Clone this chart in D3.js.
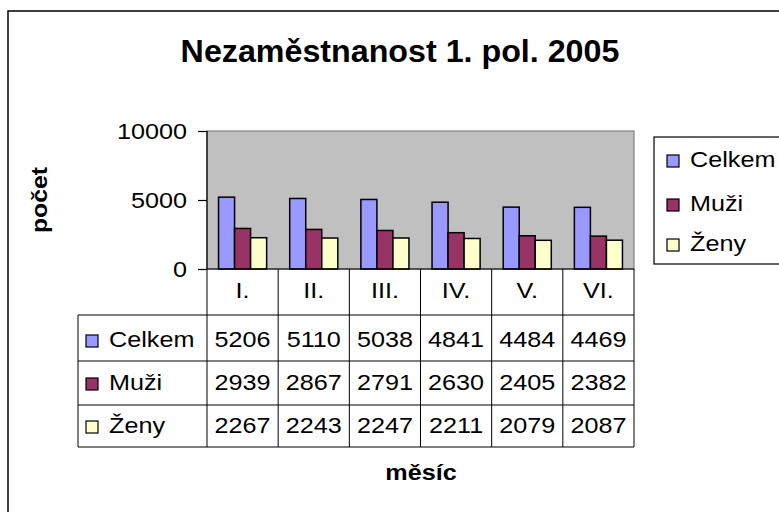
<!DOCTYPE html>
<html><head><meta charset="utf-8">
<script src="https://cdn.jsdelivr.net/npm/d3@7"></script>
<style>html,body{margin:0;padding:0;background:#fff;}svg{display:block;}</style>
</head><body>
<svg id="c" width="779" height="512"></svg>
<script>
const title = "Nezaměstnanost 1. pol. 2005";
const categories = ["I.", "II.", "III.", "IV.", "V.", "VI."];
const seriesNames = ["Celkem", "Muži", "Ženy"];
const celkem = [5206, 5110, 5038, 4841, 4484, 4469];
const muzi = [2939, 2867, 2791, 2630, 2405, 2382];
const zeny = [2267, 2243, 2247, 2211, 2079, 2087];
const yTicks = [0, 5000, 10000];
const colors = ["#9999FF", "#993366", "#FFFFCC"];
const yTitle = "počet";
const xTitle = "měsíc";

const seriesValues = [celkem, muzi, zeny];
const svg = d3.select("#c");
const FONT = "'Liberation Sans', Arial, sans-serif";
const SX = 1.12;
const FS = 22.5;

function txt(x, y, s, o = {}) {
  const sx = o.sx || SX;
  const tf = o.rot ? `translate(${x},${y}) scale(1,${sx}) rotate(${o.rot})` : `translate(${x},${y}) scale(${sx},1)`;
  return svg.append("text")
    .attr("transform", tf)
    .attr("font-family", FONT)
    .attr("font-size", o.size || FS)
    .attr("font-weight", o.bold ? "bold" : "normal")
    .attr("text-anchor", o.anchor || "start")
    .attr("fill", "#000")
    .text(s);
}

// outer border
svg.append("rect").attr("x", 8).attr("y", 11).attr("width", 800).attr("height", 600)
  .attr("fill", "#fff").attr("stroke", "#000").attr("stroke-width", 1.5);

// title
txt(400, 62, title, { size: 31, bold: true, anchor: "middle", sx: 1.04 });

// scales
const plotL = 207, plotR = 634, plotT = 131, plotB = 269;
const x0 = d3.scaleBand().domain(categories).range([plotL, plotR]).paddingInner(0).paddingOuter(0);
const x1 = d3.scaleBand().domain(seriesNames).range([0, x0.bandwidth()]).paddingOuter(0.72).paddingInner(0);
const y = d3.scaleLinear().domain([0, 10000]).range([plotB, plotT]);

// plot area
svg.append("rect").attr("x", plotL).attr("y", plotT).attr("width", plotR - plotL).attr("height", plotB - plotT)
  .attr("fill", "#C0C0C0").attr("stroke", "#808080").attr("stroke-width", 1.2);

// bars
const groups = svg.append("g").selectAll("g").data(categories).join("g")
  .attr("transform", d => `translate(${x0(d)},0)`);
groups.selectAll("rect")
  .data((c, i) => seriesNames.map((s, j) => ({ s, j, v: seriesValues[j][i] })))
  .join("rect")
  .attr("x", d => x1(d.s))
  .attr("y", d => y(d.v))
  .attr("width", x1.bandwidth())
  .attr("height", d => y(0) - y(d.v))
  .attr("fill", d => colors[d.j])
  .attr("stroke", "#000").attr("stroke-width", 1.5);

// y axis
const yAxis = d3.axisLeft(y).tickValues(yTicks).tickSize(9).tickFormat("");
const ya = svg.append("g").attr("transform", `translate(${plotL},0)`).call(yAxis);
ya.selectAll("path,line").attr("stroke", "#000").attr("stroke-width", 1.2);
ya.select(".domain").attr("d", `M0,${plotT}V${plotB}`);
yTicks.forEach(t => txt(187, y(t) + 8, String(t), { anchor: "end" }));

// x axis baseline
svg.append("line").attr("x1", plotL).attr("x2", plotR).attr("y1", plotB).attr("y2", plotB)
  .attr("stroke", "#000").attr("stroke-width", 1.2);

// y title
txt(47, 200, yTitle, { size: 22.5, bold: true, anchor: "middle", rot: -90, sx: 1.1 });

// data table
const tL = 78, rowY = [plotB, 315, 361, 405, 447];
const tb = svg.append("g").attr("stroke", "#000").attr("stroke-width", 1);
const bounds = categories.map(c => x0(c)).concat([plotR]);
bounds.forEach(bx => tb.append("line").attr("x1", bx).attr("x2", bx).attr("y1", plotB).attr("y2", rowY[4]));
tb.append("line").attr("x1", tL).attr("x2", tL).attr("y1", rowY[1]).attr("y2", rowY[4]);
rowY.slice(1).forEach(ry => tb.append("line").attr("x1", tL).attr("x2", plotR).attr("y1", ry).attr("y2", ry));

categories.forEach(c => txt(x0(c) + x0.bandwidth() / 2, 298, c, { anchor: "middle" }));
const rowBase = [347, 390, 433];
seriesNames.forEach((s, j) => {
  svg.append("rect").attr("x", 86).attr("y", rowBase[j] - 12).attr("width", 12).attr("height", 12)
    .attr("fill", colors[j]).attr("stroke", "#000").attr("stroke-width", 1.2);
  txt(109, rowBase[j], s);
  categories.forEach((c, i) => txt(x0(c) + x0.bandwidth() / 2, rowBase[j], String(seriesValues[j][i]), { anchor: "middle" }));
});

// x title
txt(421, 480, xTitle, { size: 22.5, bold: true, anchor: "middle" });

// legend
svg.append("rect").attr("x", 654).attr("y", 137).attr("width", 200).attr("height", 127)
  .attr("fill", "#fff").attr("stroke", "#000").attr("stroke-width", 1.2);
const legBase = [167, 211, 251];
seriesNames.forEach((s, j) => {
  svg.append("rect").attr("x", 667).attr("y", legBase[j] - 12).attr("width", 12).attr("height", 12)
    .attr("fill", colors[j]).attr("stroke", "#000").attr("stroke-width", 1.2);
  txt(690, legBase[j], s);
});
</script>
</body></html>
